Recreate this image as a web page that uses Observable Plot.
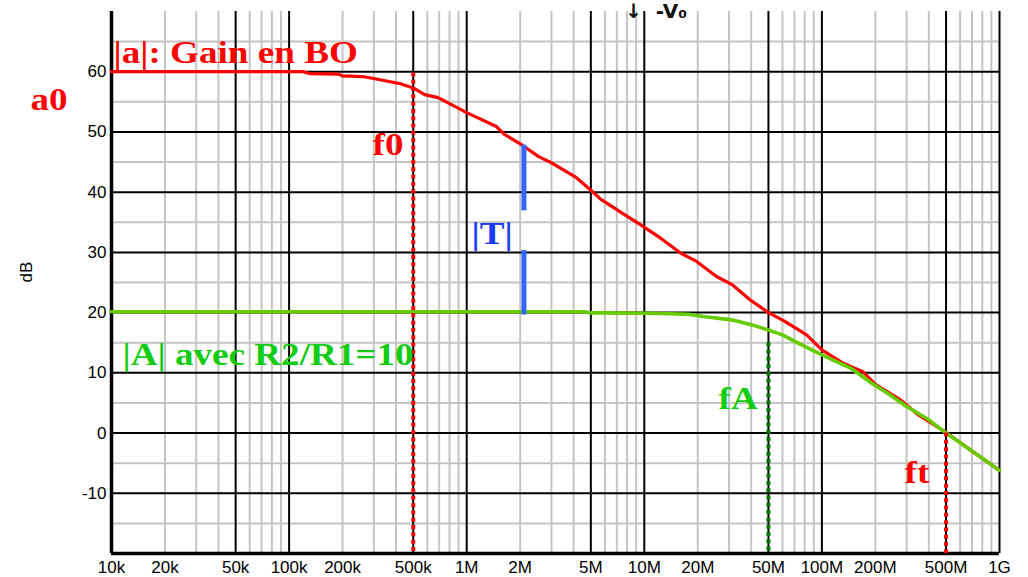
<!DOCTYPE html>
<html>
<head>
<meta charset="utf-8">
<script src="https://cdn.jsdelivr.net/npm/d3@7"></script>
<script src="https://cdn.jsdelivr.net/npm/@observablehq/plot@0.6"></script>
<style>
  html, body { margin: 0; padding: 0; background: #fff; }
  #chart { width: 1028px; height: 577px; overflow: hidden; }
</style>
</head>
<body>
<div id="chart"></div>
<script>
// Open-loop gain |a| of the amplifier (Hz, dB)
const openFreq = [1e4, 1.2e5, 1.3e5, 1.9e5, 2.0e5, 2.6e5, 3.2e5, 4.24e5, 5.0e5, 5.8e5, 6.9e5,
  1.0e6, 1.47e6, 1.63e6, 2.06e6, 2.54e6, 3.04e6, 4.15e6, 5.1e6, 5.7e6, 7.7e6, 9.5e6,
  1.23e7, 1.6e7, 1.97e7, 2.55e7, 3.14e7, 3.95e7, 5.0e7, 6.15e7, 8.2e7, 1.0e8, 1.3e8,
  1.7e8, 2.0e8, 2.77e8, 3.5e8, 5.0e8, 7.0e8, 1e9];
const openGain = [60, 60, 59.7, 59.6, 59.3, 59.2, 58.7, 58.0, 57.3, 56.2, 55.7,
  53.2, 50.9, 49.6, 47.8, 45.9, 44.8, 42.4, 40.1, 38.8, 36.3, 34.6,
  32.4, 29.9, 28.5, 26.0, 24.6, 22.1, 20.0, 18.6, 16.3, 13.8, 11.7,
  10.2, 8.1, 5.5, 3.0, 0.1, -3.0, -6.2];

// Closed-loop gain |A| with R2/R1 = 10 (Hz, dB)
const closedFreq = [1e4, 4.6e6, 5.0e6, 1.0e7, 1.4e7, 1.8e7, 2.2e7, 3.1e7, 4.0e7, 5.0e7,
  6.0e7, 7.5e7, 1.0e8, 1.45e8, 1.9e8, 2.4e8, 3.0e8, 4.0e8, 5.0e8, 6.2e8, 7.5e8, 1e9];
const closedGain = [20.15, 20.15, 19.95, 19.9, 19.8, 19.7, 19.3, 18.8, 18.0, 17.1,
  16.3, 14.8, 13.0, 10.8, 8.3, 6.4, 4.4, 2.2, 0.0, -1.9, -3.6, -6.2];

// Characteristic frequencies and the levels their markers span (dB)
const f0 = 5e5, fA = 5e7, ft = 5e8;
const f0Span = [59.8, -20];
const fASpan = [15, -20];
const ftSpan = [0, -20];

// Loop gain |T| = |a| - |A| shown at 2 MHz, split around its label
const loopFreq = 2.1e6;
const loopSegments = [[47.8, 36.9], [30.3, 19.6]];

// Axis ticks
const xTicks = [1e4, 2e4, 5e4, 1e5, 2e5, 5e5, 1e6, 2e6, 5e6, 1e7, 2e7, 5e7, 1e8, 2e8, 5e8, 1e9];
const xTickLabels = ["10k", "20k", "50k", "100k", "200k", "500k", "1M", "2M", "5M", "10M",
  "20M", "50M", "100M", "200M", "500M", "1G"];
const yTicks = [-10, 0, 10, 20, 30, 40, 50, 60];

// Annotation labels, anchored in data coordinates (Hz, dB)
const redLabels = [
  {text: "|a|: Gain en BO", f: 1.026e4, db: 63.2},
  {text: "a0", f: 3.5e3, db: 55.4},
  {text: "f0", f: 2.95e5, db: 47.9},
  {text: "ft", f: 2.92e8, db: -6.6}
];
const greenLabels = [
  {text: "|A| avec R2/R1=10", f: 1.153e4, db: 13.0},
  {text: "fA", f: 2.62e7, db: 5.7}
];
const blueLabels = [{text: "|T|", f: 1.064e6, db: 33.1}];
const noteLabels = [{text: "↓  -V₀", f: 7.8e6, db: 70.0}];

// Grid: black at 1× and 5× each decade, grey elsewhere
const decades = [1e4, 1e5, 1e6, 1e7, 1e8];
const majorF = decades.flatMap(d => [d, 5 * d]).concat([1e9]);
const minorF = decades.flatMap(d => [2, 3, 4, 6, 7, 8, 9].map(m => m * d));
const majorDb = d3.range(-10, 61, 10);
const minorDb = d3.range(-15, 66, 10);

const openData = openFreq.map((f, i) => ({f, db: openGain[i]}));
const closedData = closedFreq.map((f, i) => ({f, db: closedGain[i]}));
const xTickData = xTicks.map((f, i) => ({f, label: xTickLabels[i]}));

const serif = "'Liberation Serif', 'Times New Roman', serif";
const labelStyle = {x: "f", y: "db", text: "text", textAnchor: "start", fontFamily: serif,
  fontWeight: "bold", fontSize: 32};

const chart = Plot.plot({
  width: 1028,
  height: 577,
  marginLeft: 111,
  marginRight: 29,
  marginTop: 11,
  marginBottom: 24,
  style: {fontFamily: "'Liberation Sans', Arial, sans-serif", fontSize: "17px", background: "#fff", overflow: "visible"},
  x: {type: "log", domain: [1e4, 1e9], axis: null},
  y: {domain: [-20, 70], axis: null},
  marks: [
    Plot.ruleX(minorF, {stroke: "#c4c4c4", strokeWidth: 2}),
    Plot.ruleY(minorDb, {stroke: "#c4c4c4", strokeWidth: 2}),
    Plot.ruleX(majorF, {stroke: "#000", strokeWidth: 2}),
    Plot.ruleY(majorDb, {stroke: "#000", strokeWidth: 2}),
    Plot.ruleX([1e4], {stroke: "#000", strokeWidth: 3.5}),
    Plot.ruleY([-20], {stroke: "#000", strokeWidth: 3.5}),
    // tick labels
    Plot.text(xTickData, {x: "f", text: "label", frameAnchor: "bottom", lineAnchor: "top", dy: 7, fontSize: 17, fill: "#000"}),
    Plot.text(yTicks, {y: d => d, text: d => String(d), frameAnchor: "left", textAnchor: "end", dx: -5, fontSize: 17, fill: "#000"}),
    Plot.text(["dB"], {frameAnchor: "left", dx: -85, rotate: -90, fontSize: 17}),
    // gain curves
    Plot.line(openData, {x: "f", y: "db", stroke: "#ff0000", strokeWidth: 3.2}),
    Plot.line(closedData, {x: "f", y: "db", stroke: "#66cc00", strokeWidth: 3.6}),
    // dotted frequency markers
    Plot.ruleX([f0], {y1: f0Span[0], y2: f0Span[1], stroke: "#ff0000", strokeWidth: 4, strokeDasharray: "4,3.3"}),
    Plot.ruleX([fA], {y1: fASpan[0], y2: fASpan[1], stroke: "#007700", strokeWidth: 4, strokeDasharray: "4,3.3"}),
    Plot.ruleX([ft], {y1: ftSpan[0], y2: ftSpan[1], stroke: "#ff0000", strokeWidth: 4, strokeDasharray: "4,3.3"}),
    // loop gain bars
    Plot.ruleX(loopSegments, {x: () => loopFreq, y1: d => d[0], y2: d => d[1], stroke: "#3366ff", strokeWidth: 5}),
    // annotations
    Plot.text(redLabels, {...labelStyle, fill: "#ff0000"}),
    Plot.text(greenLabels, {...labelStyle, fill: "#11cc11"}),
    Plot.text(blueLabels, {...labelStyle, fill: "#1a3cf0"}),
    Plot.text(noteLabels, {x: "f", y: "db", text: "text", textAnchor: "start", fontFamily: "'DejaVu Sans', sans-serif",
      fontWeight: "bold", fontSize: 20, fill: "#111"})
  ]
});

document.getElementById("chart").appendChild(chart);

// The bold serif annotations are set slightly wide
d3.select(chart).selectAll("g").filter(function () {
  return (this.getAttribute("font-family") || "").includes("Liberation Serif");
}).selectAll("text").each(function () {
  const len = this.getComputedTextLength();
  this.setAttribute("textLength", (len * 1.16).toFixed(1));
  this.setAttribute("lengthAdjust", "spacingAndGlyphs");
});
</script>
</body>
</html>
